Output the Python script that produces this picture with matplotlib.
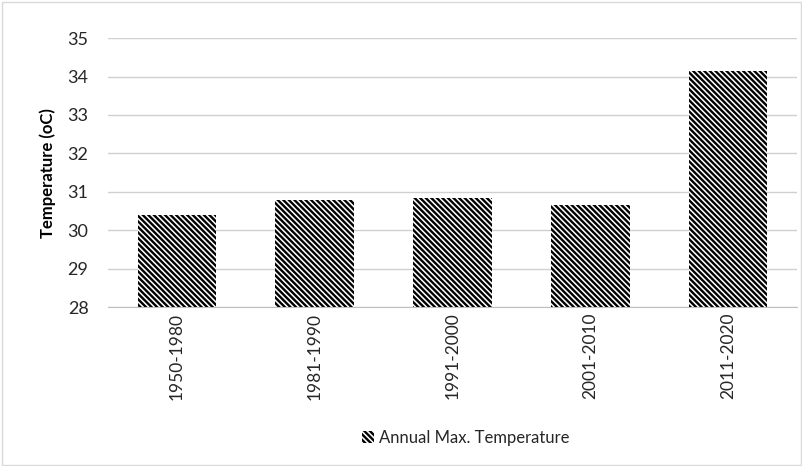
import matplotlib.pyplot as plt
from matplotlib.patches import Rectangle

plt.rcParams['font.family'] = ['Lato', 'DejaVu Sans']
plt.rcParams['hatch.linewidth'] = 1.7

# Data
periods = ['1950-1980', '1981-1990', '1991-2000', '2001-2010', '2011-2020']
max_temp = [30.39, 30.79, 30.84, 30.65, 34.15]

fig = plt.figure(figsize=(8.03, 4.66), dpi=100)
ax = fig.add_axes([0.1345, 0.341, 0.858, 0.5773])

ax.bar(periods, [t - 28 for t in max_temp], bottom=28, width=0.57,
       color='white', edgecolor='black', linewidth=0, hatch='\\' * 6,
       label='Annual Max. Temperature', zorder=3)

ax.set_ylim(28, 35)
ax.set_xlim(-0.5, 4.5)
ax.set_yticks(range(28, 36))
ax.grid(axis='y', color='#d0d0d0', linewidth=1, zorder=0)
for s in ['top', 'right', 'left']:
    ax.spines[s].set_visible(False)
ax.spines['bottom'].set_color('#bfbfbf')
ax.tick_params(axis='y', length=0, labelsize=13, labelcolor='#262626', pad=14)
ax.tick_params(axis='x', length=0, labelsize=12.5, labelcolor='#262626', rotation=90, pad=4)
ax.set_ylabel('Temperature (oC)', fontsize=12, fontweight='bold', labelpad=8)

fig.legend(loc='center', bbox_to_anchor=(0.58, 0.06), frameon=False,
           fontsize=12, handlelength=0.7, handleheight=0.7, handletextpad=0.3,
           labelcolor='#262626')

fig.add_artist(Rectangle((0.002, 0.003), 0.995, 0.993, transform=fig.transFigure,
                         fill=False, edgecolor='#d9d9d9', linewidth=1))

fig.savefig('out.png', dpi=100)
